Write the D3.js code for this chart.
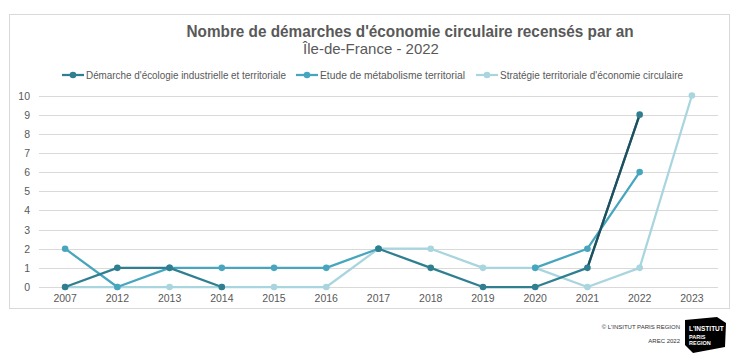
<!DOCTYPE html>
<html>
<head>
<meta charset="utf-8">
<script src="https://cdn.jsdelivr.net/npm/d3@7"></script>
<style>
  body { margin: 0; background: #fff; }
  text { font-family: "Liberation Sans", Arial, sans-serif; }
</style>
</head>
<body>
<div id="chart"></div>
<script>
const years = ["2007", "2012", "2013", "2014", "2015", "2016", "2017", "2018", "2019", "2020", "2021", "2022", "2023"];
const ecologie = [0, 1, 1, 0, null, null, 2, 1, 0, 0, 1, 9, null];
const metabolisme = [2, 0, 1, 1, 1, 1, 2, null, null, 1, 2, 6, null];
const strategie = [0, 0, 0, 0, 0, 0, 2, 2, 1, 1, 0, 1, 10];
const yTicks = [0, 1, 2, 3, 4, 5, 6, 7, 8, 9, 10];

const seriesNames = [
  "Démarche d'écologie industrielle et territoriale",
  "Etude de métabolisme territorial",
  "Stratégie territoriale d'économie circulaire",
];
const seriesValues = [ecologie, metabolisme, strategie];
const colors = ["#2f7f90", "#47a6be", "#a9d5df"];

const W = 746, H = 363;
const svg = d3.select("#chart").append("svg").attr("width", W).attr("height", H);

// frame
svg.append("rect")
  .attr("x", 9.5).attr("y", 14.5)
  .attr("width", 720).attr("height", 294)
  .attr("fill", "#fff").attr("stroke", "#d9d9d9");

// titles
svg.append("text")
  .attr("x", 410).attr("y", 37)
  .attr("text-anchor", "middle")
  .attr("font-size", 16).attr("font-weight", "bold")
  .attr("fill", "#595959")
  .attr("textLength", 447)
  .attr("lengthAdjust", "spacingAndGlyphs")
  .text("Nombre de démarches d'économie circulaire recensés par an");
svg.append("text")
  .attr("x", 371).attr("y", 54)
  .attr("text-anchor", "middle")
  .attr("font-size", 15)
  .attr("fill", "#595959")
  .text("Île-de-France - 2022");

const x = d3.scalePoint().domain(years).range([39, 718]).padding(0.5);
const y = d3.scaleLinear().domain([0, 10]).range([287, 95.5]);

// grid
svg.append("g")
  .selectAll("line")
  .data(yTicks)
  .join("line")
  .attr("x1", 39).attr("x2", 718)
  .attr("y1", (d) => Math.round(y(d)) + 0.5)
  .attr("y2", (d) => Math.round(y(d)) + 0.5)
  .attr("stroke", "#d9d9d9");

// y labels
svg.append("g")
  .selectAll("text")
  .data(yTicks)
  .join("text")
  .attr("x", 30).attr("y", (d) => y(d) + 4)
  .attr("text-anchor", "end")
  .attr("font-size", 10.5).attr("fill", "#595959")
  .text((d) => d);

// x labels
svg.append("g")
  .selectAll("text")
  .data(years)
  .join("text")
  .attr("x", (d) => x(d)).attr("y", 302)
  .attr("text-anchor", "middle")
  .attr("font-size", 10.5).attr("fill", "#595959")
  .text((d) => d);

const line = d3.line()
  .defined((d) => d.v !== null)
  .x((d) => x(d.year))
  .y((d) => y(d.v));

// draw light first so darker series sit on top
[2, 1, 0].forEach((i) => {
  const pts = years.map((yr, j) => ({ year: yr, v: seriesValues[i][j] }));
  svg.append("path")
    .datum(pts)
    .attr("d", line)
    .attr("fill", "none")
    .attr("stroke", colors[i])
    .attr("stroke-width", 2.25)
    .attr("stroke-linejoin", "round");
  // darker last segment of the first series (2021 -> 2022)
  if (i === 0) {
    svg.append("path")
      .datum(pts.slice(10, 12))
      .attr("d", line)
      .attr("fill", "none")
      .attr("stroke", "#1f4f5e")
      .attr("stroke-width", 2.25);
  }
  svg.append("g")
    .selectAll("circle")
    .data(pts.filter((d) => d.v !== null))
    .join("circle")
    .attr("cx", (d) => x(d.year))
    .attr("cy", (d) => y(d.v))
    .attr("r", 3.3)
    .attr("fill", colors[i]);
});

// legend
const legendX = [62, 296, 476];
const legendW = [200, 145, 183];
const lg = svg.append("g")
  .selectAll("g")
  .data(seriesNames)
  .join("g")
  .attr("transform", (d, i) => `translate(${legendX[i]}, 75)`);
lg.append("line")
  .attr("x1", 0).attr("x2", 22)
  .attr("stroke", (d, i) => colors[i]).attr("stroke-width", 2.25);
lg.append("circle")
  .attr("cx", 11).attr("r", 3.3)
  .attr("fill", (d, i) => colors[i]);
lg.append("text")
  .attr("x", 24).attr("y", 3.5)
  .attr("font-size", 10).attr("fill", "#595959")
  .attr("textLength", (d, i) => legendW[i])
  .attr("lengthAdjust", "spacingAndGlyphs")
  .text((d) => d);

// footer
svg.append("text")
  .attr("x", 680).attr("y", 329)
  .attr("text-anchor", "end")
  .attr("font-size", 6).attr("fill", "#333")
  .text("© L'INSITUT PARIS REGION");
svg.append("text")
  .attr("x", 680).attr("y", 343)
  .attr("text-anchor", "end")
  .attr("font-size", 6).attr("fill", "#333")
  .text("AREC 2022");

const logo = svg.append("g");
logo.append("path")
  .attr("d", "M685,320 L717,317 L726,323 L725,347 L693,353 L685,345 Z")
  .attr("fill", "#000");
["L'INSTITUT", "PARIS", "REGION"].forEach((t, i) => {
  logo.append("text")
    .attr("x", 689).attr("y", [331, 339, 345][i])
    .attr("font-size", i === 0 ? 6.5 : 5.5)
    .attr("font-weight", "bold")
    .attr("fill", "#fff")
    .text(t);
});
</script>
</body>
</html>
